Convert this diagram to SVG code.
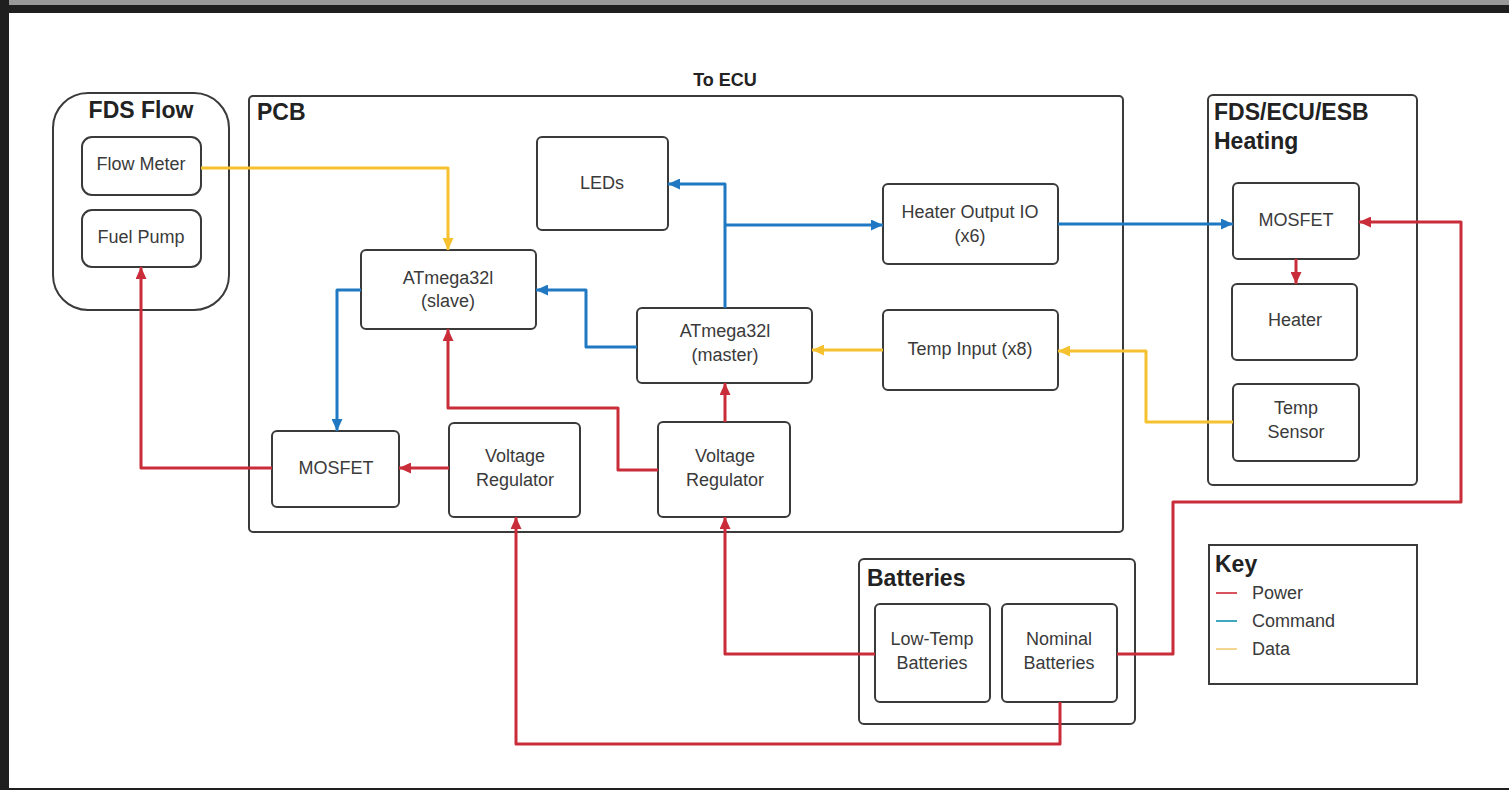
<svg xmlns="http://www.w3.org/2000/svg" width="1509" height="790" viewBox="0 0 1509 790">
<style>
.box{fill:#fff;stroke:#3a3a3a;stroke-width:2}
.cont{fill:none;stroke:#3a3a3a;stroke-width:2}
.t{font-family:"Liberation Sans",Arial,sans-serif;font-size:18px;fill:#3a3a3a;text-anchor:middle}
.k{font-family:"Liberation Sans",Arial,sans-serif;font-size:18px;fill:#3a3a3a;text-anchor:start}
.h{font-family:"Liberation Sans",Arial,sans-serif;font-size:23px;font-weight:bold;fill:#222}
.c{fill:none;stroke-width:3;stroke-linejoin:round}
.p{stroke:#c92d39}
.b{stroke:#1f78c1}
.y{stroke:#f5c12e}
</style>
<defs>
<marker id="ar" markerUnits="userSpaceOnUse" markerWidth="12" markerHeight="11" refX="12" refY="5.5" orient="auto"><path d="M0,0 L12,5.5 L0,11 z" fill="#c92d39"/></marker>
<marker id="ab" markerUnits="userSpaceOnUse" markerWidth="12" markerHeight="11" refX="12" refY="5.5" orient="auto"><path d="M0,0 L12,5.5 L0,11 z" fill="#1f78c1"/></marker>
<marker id="ay" markerUnits="userSpaceOnUse" markerWidth="12" markerHeight="11" refX="12" refY="5.5" orient="auto"><path d="M0,0 L12,5.5 L0,11 z" fill="#f5c12e"/></marker>
</defs>
<rect x="0" y="0" width="1509" height="790" fill="#fff"/>
<rect x="0" y="0" width="1509" height="5" fill="#9a9a9a"/>
<rect x="0" y="5" width="1509" height="8" fill="#1f1f1f"/>
<rect x="0" y="0" width="9" height="790" fill="#1f1f1f"/>
<rect x="0" y="788" width="1509" height="2" fill="#1f1f1f"/>

<g id="fds-flow">
<rect class="cont" x="53" y="93" width="176" height="217" rx="35"/>
<text class="h" x="141" y="118" text-anchor="middle">FDS Flow</text>
</g>
<g id="flow-meter"><rect class="box" x="82" y="137" width="119" height="58" rx="10"/><text class="t" x="141" y="170">Flow Meter</text></g>
<g id="fuel-pump"><rect class="box" x="82" y="210" width="119" height="57" rx="10"/><text class="t" x="141" y="243">Fuel Pump</text></g>

<g id="pcb">
<rect class="cont" x="249" y="96" width="874" height="436" rx="4"/>
<text class="h" x="257" y="120">PCB</text>
</g>
<text id="to-ecu" x="725" y="86" font-family="Liberation Sans, Arial, sans-serif" font-size="18" font-weight="bold" fill="#222" text-anchor="middle">To ECU</text>

<g id="leds"><rect class="box" x="537" y="137" width="131" height="93" rx="5"/><text class="t" x="602" y="189">LEDs</text></g>
<g id="heater-io"><rect class="box" x="883" y="184" width="175" height="80" rx="5"/><text class="t" x="970" y="218">Heater Output IO</text><text class="t" x="970" y="242">(x6)</text></g>
<g id="atmega-slave"><rect class="box" x="361" y="250" width="175" height="79" rx="5"/><text class="t" x="448" y="284">ATmega32l</text><text class="t" x="448" y="307">(slave)</text></g>
<g id="atmega-master"><rect class="box" x="637" y="308" width="175" height="75" rx="5"/><text class="t" x="725" y="337">ATmega32l</text><text class="t" x="725" y="361">(master)</text></g>
<g id="temp-input"><rect class="box" x="883" y="310" width="175" height="80" rx="5"/><text class="t" x="970" y="355">Temp Input (x8)</text></g>
<g id="mosfet-pcb"><rect class="box" x="272" y="431" width="127" height="76" rx="5"/><text class="t" x="336" y="474">MOSFET</text></g>
<g id="vreg-1"><rect class="box" x="449" y="423" width="131" height="94" rx="5"/><text class="t" x="515" y="462">Voltage</text><text class="t" x="515" y="486">Regulator</text></g>
<g id="vreg-2"><rect class="box" x="658" y="422" width="132" height="95" rx="5"/><text class="t" x="725" y="462">Voltage</text><text class="t" x="725" y="486">Regulator</text></g>

<g id="heating">
<rect class="cont" x="1208" y="95" width="209" height="390" rx="5"/>
<text class="h" x="1214" y="120">FDS/ECU/ESB</text>
<text class="h" x="1214" y="149">Heating</text>
</g>
<g id="mosfet-heat"><rect class="box" x="1233" y="183" width="126" height="76" rx="5"/><text class="t" x="1296" y="226">MOSFET</text></g>
<g id="heater"><rect class="box" x="1232" y="284" width="125" height="76" rx="5"/><text class="t" x="1295" y="326">Heater</text></g>
<g id="temp-sensor"><rect class="box" x="1233" y="384" width="126" height="77" rx="5"/><text class="t" x="1296" y="414">Temp</text><text class="t" x="1296" y="438">Sensor</text></g>

<g id="batteries">
<rect class="cont" x="859" y="559" width="276" height="165" rx="5"/>
<text class="h" x="867" y="586">Batteries</text>
</g>
<g id="low-temp"><rect class="box" x="875" y="604" width="115" height="98" rx="5"/><text class="t" x="932" y="645">Low-Temp</text><text class="t" x="932" y="669">Batteries</text></g>
<g id="nominal"><rect class="box" x="1002" y="604" width="115" height="98" rx="5"/><text class="t" x="1059" y="645">Nominal</text><text class="t" x="1059" y="669">Batteries</text></g>

<g id="key">
<rect x="1209" y="545" width="208" height="139" fill="#fff" stroke="#3a3a3a" stroke-width="2"/>
<text class="h" x="1215" y="572">Key</text>
<line x1="1216" y1="593" x2="1237" y2="593" stroke="#d9535e" stroke-width="2"/>
<text class="k" x="1252" y="599">Power</text>
<line x1="1216" y1="621" x2="1237" y2="621" stroke="#3fa8bf" stroke-width="2"/>
<text class="k" x="1252" y="627">Command</text>
<line x1="1216" y1="649" x2="1237" y2="649" stroke="#f3d58f" stroke-width="2"/>
<text class="k" x="1252" y="655">Data</text>
</g>

<g id="connectors">
<path class="c y" d="M201,168 H448 V250" marker-end="url(#ay)"/>
<path class="c p" d="M272,468 H141 V267" marker-end="url(#ar)"/>
<path class="c b" d="M361,290 H337 V431" marker-end="url(#ab)"/>
<path class="c b" d="M637,347 H586 V290 H536" marker-end="url(#ab)"/>
<path class="c b" d="M725,308 V184 H668" marker-end="url(#ab)"/>
<path class="c b" d="M725,225 H883" marker-end="url(#ab)"/>
<path class="c b" d="M1058,224 H1233" marker-end="url(#ab)"/>
<path class="c p" d="M1296,259 V284" marker-end="url(#ar)"/>
<path class="c y" d="M1233,422 H1146 V351 H1058" marker-end="url(#ay)"/>
<path class="c y" d="M883,350 H812" marker-end="url(#ay)"/>
<path class="c p" d="M725,422 V383" marker-end="url(#ar)"/>
<path class="c p" d="M658,470 H618 V408 H448 V329" marker-end="url(#ar)"/>
<path class="c p" d="M449,468 H399" marker-end="url(#ar)"/>
<path class="c p" d="M875,654 H725 V517" marker-end="url(#ar)"/>
<path class="c p" d="M1060,702 V744 H516 V517" marker-end="url(#ar)"/>
<path class="c p" d="M1117,654 H1173 V502 H1461 V222 H1359" marker-end="url(#ar)"/>
</g>
</svg>
